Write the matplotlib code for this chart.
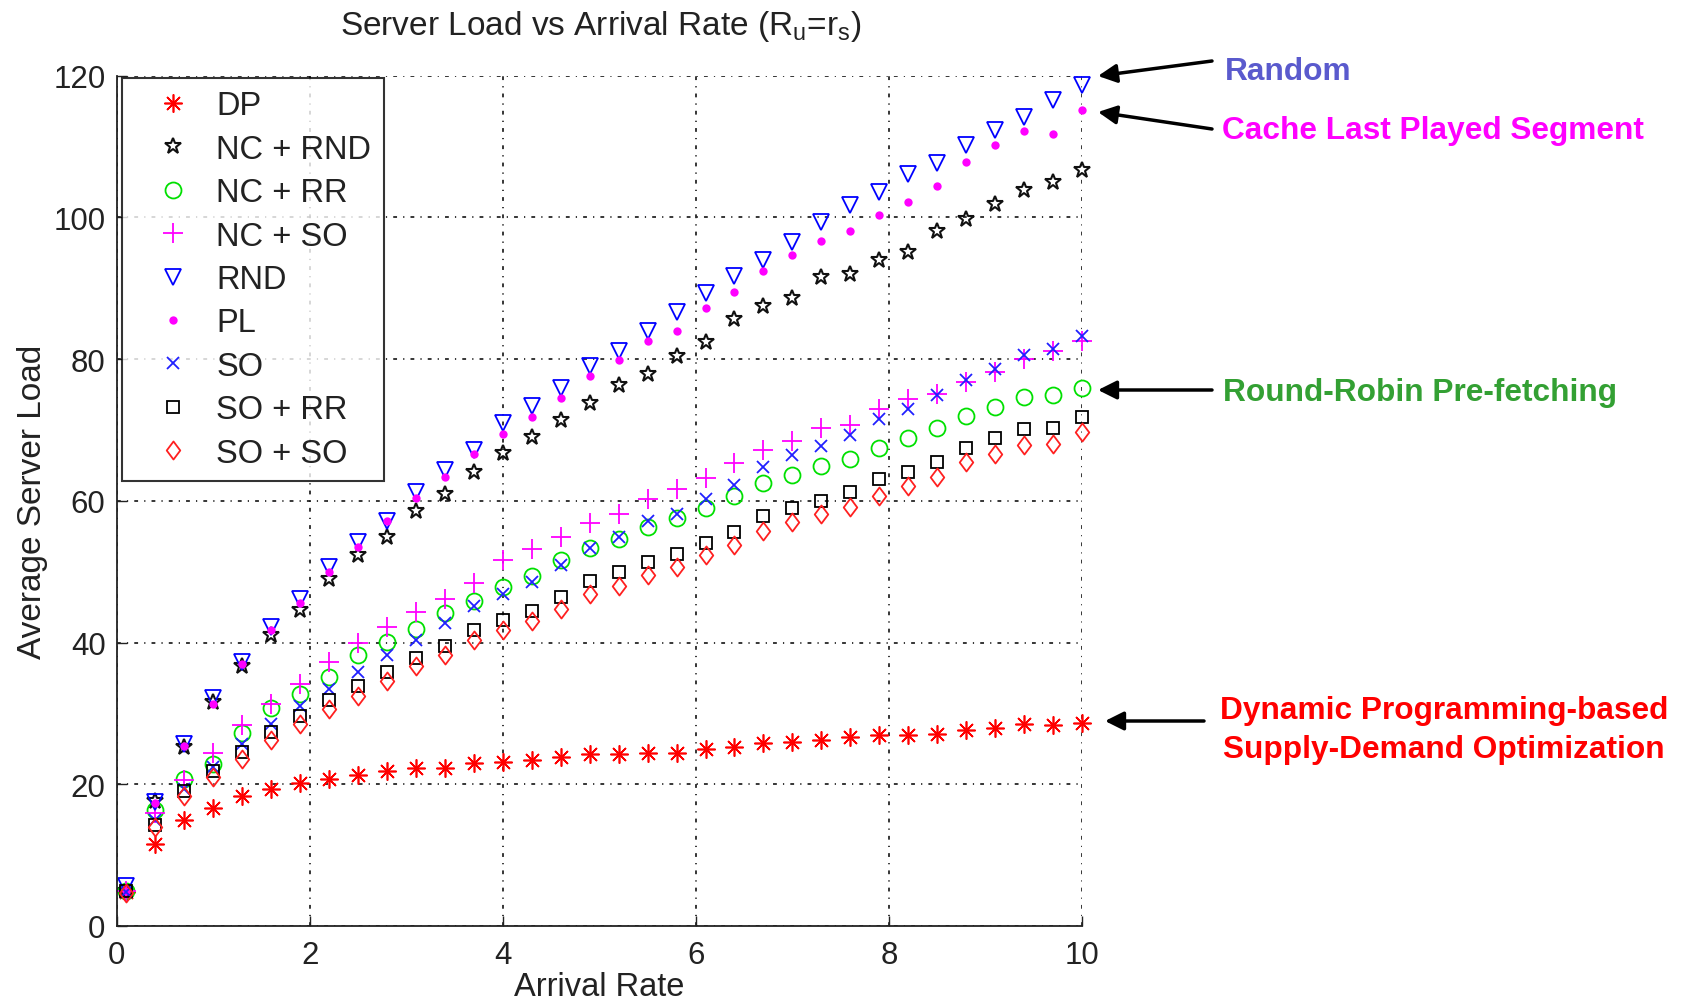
import matplotlib
matplotlib.use("Agg")
import matplotlib.pyplot as plt
from matplotlib.path import Path

plt.rcParams['font.family'] = ['Liberation Sans', 'DejaVu Sans']
plt.rcParams['mathtext.fontset'] = 'custom'
plt.rcParams['mathtext.rm'] = 'Liberation Sans'
plt.rcParams['mathtext.it'] = 'Liberation Sans:italic'

# ---------------- data ----------------
arrival_rate = [0.1, 0.4, 0.7, 1.0, 1.3, 1.6, 1.9, 2.2, 2.5, 2.8, 3.1, 3.4, 3.7, 4.0,
                4.3, 4.6, 4.9, 5.2, 5.5, 5.8, 6.1, 6.4, 6.7, 7.0, 7.3, 7.6, 7.9, 8.2,
                8.5, 8.8, 9.1, 9.4, 9.7, 10.0]

dp = [4.8, 11.6, 14.9, 16.7, 18.4, 19.3, 20.2, 20.7, 21.3, 21.9, 22.3, 22.3, 23.0, 23.2,
      23.4, 23.8, 24.2, 24.2, 24.4, 24.4, 25.0, 25.2, 25.8, 26.0, 26.2, 26.6, 26.9, 27.0,
      27.1, 27.6, 28.0, 28.5, 28.3, 28.6]
nc_rnd = [5.0, 17.6, 25.3, 31.6, 36.7, 41.0, 44.6, 48.9, 52.4, 54.9, 58.6, 61.0, 64.1, 66.8,
          69.0, 71.4, 73.8, 76.4, 77.9, 80.4, 82.4, 85.7, 87.5, 88.6, 91.6, 92.0, 94.0, 95.1,
          98.0, 99.8, 101.9, 103.9, 105.0, 106.7]
nc_rr = [4.9, 16.4, 20.8, 22.8, 27.3, 30.7, 32.7, 35.1, 38.2, 40.1, 41.9, 44.1, 45.9, 47.8,
         49.4, 51.6, 53.3, 54.6, 56.3, 57.5, 59.0, 60.6, 62.5, 63.6, 64.9, 65.9, 67.5, 68.8,
         70.2, 72.0, 73.2, 74.6, 74.9, 75.9]
nc_so = [5.0, 15.9, 20.6, 24.4, 28.3, 31.3, 34.2, 37.2, 40.0, 42.2, 44.3, 46.1, 48.4, 51.6,
         53.2, 54.9, 56.9, 58.2, 60.3, 61.7, 63.2, 65.3, 67.1, 68.4, 70.2, 70.7, 73.0, 74.3,
         75.1, 76.7, 78.1, 80.0, 81.1, 82.6]
rnd = [5.6, 17.5, 25.7, 32.1, 37.2, 42.2, 46.2, 50.6, 54.2, 57.2, 61.2, 64.3, 67.2, 70.9,
       73.3, 75.9, 79.0, 81.1, 83.9, 86.7, 89.3, 91.7, 94.0, 96.5, 99.3, 101.7, 103.6, 106.1,
       107.7, 110.2, 112.3, 114.1, 116.5, 118.6]
pl = [5.0, 17.4, 25.4, 31.3, 37.0, 41.7, 45.6, 49.9, 53.5, 57.2, 60.4, 63.3, 66.6, 69.4,
      71.8, 74.5, 77.6, 79.8, 82.6, 84.0, 87.2, 89.4, 92.4, 94.7, 96.6, 98.1, 100.3, 102.1,
      104.4, 107.8, 110.2, 112.1, 111.8, 115.1]
so = [4.8, 15.0, 19.3, 22.5, 25.7, 28.5, 31.1, 33.5, 35.9, 38.2, 40.4, 42.8, 45.2, 46.9,
      48.6, 51.0, 53.3, 54.9, 57.2, 58.2, 60.2, 62.2, 64.7, 66.4, 67.7, 69.3, 71.6, 73.0,
      74.9, 77.1, 78.6, 80.6, 81.4, 83.3]
so_rr = [4.9, 14.3, 19.0, 21.8, 24.5, 27.4, 29.7, 31.9, 33.8, 35.9, 37.8, 39.5, 41.7, 43.2,
         44.5, 46.4, 48.7, 49.9, 51.4, 52.5, 54.1, 55.6, 57.8, 59.0, 59.9, 61.2, 63.0, 64.0,
         65.5, 67.5, 68.8, 70.1, 70.2, 71.8]
so_so = [4.7, 13.9, 18.4, 21.0, 23.5, 26.2, 28.5, 30.6, 32.5, 34.6, 36.7, 38.2, 40.3, 41.8,
         43.1, 44.7, 46.9, 48.0, 49.5, 50.6, 52.3, 53.7, 55.7, 57.0, 58.2, 59.1, 60.7, 62.1,
         63.3, 65.4, 66.6, 67.8, 68.0, 69.7]

labels = ['DP', 'NC + RND', 'NC + RR', 'NC + SO', 'RND', 'PL', 'SO', 'SO + RR', 'SO + SO']
x_ticks = [0, 2, 4, 6, 8, 10]
y_ticks = [0, 20, 40, 60, 80, 100, 120]

# ---------------- figure ----------------
W, H = 1689, 1003
fig = plt.figure(figsize=(W / 100, H / 100), dpi=100)
ax = fig.add_axes([116.7 / W, 1 - 927 / H, (1082 - 116.7) / W, (927 - 76.5) / H])

diamond = Path([(0, 1), (0.75, 0), (0, -1), (-0.75, 0), (0, 1)],
               [Path.MOVETO, Path.LINETO, Path.LINETO, Path.LINETO, Path.CLOSEPOLY])

mew = 1.3
styles = [
    dict(marker=(8, 2, 0), color='#ff0000', ms=13, mew=1.2),
    dict(marker='*', color='#111111', mfc='none', ms=12, mew=1.5),
    dict(marker='o', color='#00e000', mfc='none', ms=11.5, mew=mew),
    dict(marker='+', color='#ff00ff', ms=14, mew=mew),
    dict(marker='v', color='#0000ff', mfc='none', ms=11.5, mew=mew),
    dict(marker='o', color='#ff00ff', ms=6, mew=0),
    dict(marker='x', color='#2020ff', ms=9, mew=mew),
    dict(marker='s', color='#000000', mfc='none', ms=9, mew=mew),
    dict(marker=diamond, color='#ff2020', mfc='none', ms=13, mew=mew),
]
series = [dp, nc_rnd, nc_rr, nc_so, rnd, pl, so, so_rr, so_so]
for ys, lab, st in zip(series, labels, styles):
    ax.plot(arrival_rate, ys, linestyle='none', label=lab, clip_on=False, **st)

ax.set_xlim(0, 10)
ax.set_ylim(0, 120)
ax.set_xticks(x_ticks)
ax.set_yticks(y_ticks)
ax.tick_params(direction='in', length=7, width=1.0, labelsize=22.5, colors='#222222')
ax.tick_params(axis='x', pad=10)
ax.tick_params(axis='y', pad=8)
ax.grid(True, color='black', linewidth=1.1, linestyle=(0, (2.5, 4, 0.8, 4)))
ax.set_axisbelow(True)
for s in ['top', 'right']:
    ax.spines[s].set_visible(False)
for s in ['left', 'bottom']:
    ax.spines[s].set_linewidth(1.3)
    ax.spines[s].set_color('#222222')

ax.set_xlabel('Arrival Rate', fontsize=23.5, color='#222222', labelpad=1)
ax.set_ylabel('Average Server Load', fontsize=24, color='#222222', labelpad=4)
fig.text(601 / W, 1 - 35 / H, r'Server Load vs Arrival Rate (R$_{\mathrm{u}}$=r$_{\mathrm{s}}$)',
         fontsize=24, ha='center', va='baseline', color='#222222')

leg = ax.legend(loc='upper left', bbox_to_anchor=(0.0052, 0.997), borderaxespad=0,
                numpoints=1, fontsize=23.5, frameon=True, fancybox=False,
                edgecolor='black', borderpad=0.38, labelspacing=0.38,
                handlelength=2.4, handletextpad=0.12)
leg.get_frame().set_linewidth(1.5)
for t in leg.get_texts():
    t.set_color('#222222')

# ---------------- annotations ----------------
def fx(px):
    return px / W

def fy(py):
    return 1 - py / H

arrow_kw = dict(arrowstyle='-|>', color='black', lw=2.5, mutation_scale=28,
                shrinkA=0, shrinkB=0)
arrows = [((1212, 62), (1098, 77)), ((1212, 130), (1098, 113)),
          ((1212, 391), (1098, 391)), ((1204, 722), (1105, 722))]
for (tx, ty), (hx, hy) in arrows:
    fig.add_artist(matplotlib.patches.FancyArrowPatch(
        (fx(tx), fy(ty)), (fx(hx), fy(hy)), transform=fig.transFigure, **arrow_kw))

ann_fs = 22.8
fig.text(fx(1225), fy(79.5), 'Random', color='#5a5acd', fontsize=ann_fs,
         fontweight='bold', ha='left', va='baseline')
fig.text(fx(1222), fy(139), 'Cache Last Played Segment', color='#ff00ff', fontsize=ann_fs,
         fontweight='bold', ha='left', va='baseline')
fig.text(fx(1223), fy(401), 'Round-Robin Pre-fetching', color='#33a033', fontsize=ann_fs,
         fontweight='bold', ha='left', va='baseline')
fig.text(fx(1444), fy(719), 'Dynamic Programming-based', color='#ff0000', fontsize=ann_fs,
         fontweight='bold', ha='center', va='baseline')
fig.text(fx(1444), fy(758), 'Supply-Demand Optimization', color='#ff0000', fontsize=ann_fs,
         fontweight='bold', ha='center', va='baseline')

fig.savefig('out.png', dpi=100)
